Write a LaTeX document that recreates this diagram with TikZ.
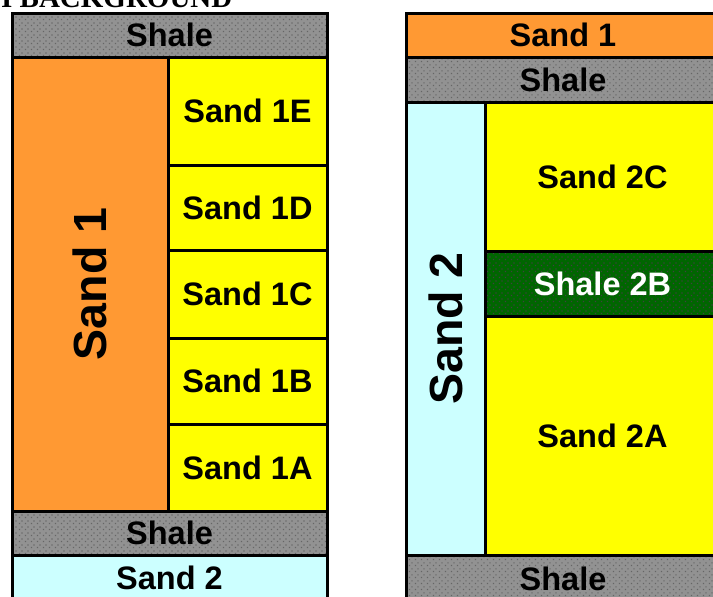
\documentclass[tikz,border=0pt]{standalone}
\usepackage{fontspec}
\setmainfont{Liberation Sans}
\newfontfamily\titlefont{Liberation Serif}
\usetikzlibrary{positioning, patterns.meta}

\definecolor{sandorange}{HTML}{FF9933}
\definecolor{sandyellow}{HTML}{FFFF00}
\definecolor{sandcyan}{HTML}{CCFFFF}
\definecolor{shalegray}{HTML}{929292}
\definecolor{shalegreen}{HTML}{006600}

\tikzdeclarepattern{name=shaledots, type=uncolored,
  bounding box={(0pt,0pt) and (6pt,6pt)}, tile size={(6pt,6pt)},
  code={\fill (1pt,1pt) rectangle (2.4pt,2.4pt);
        \fill (4pt,4pt) rectangle (5.4pt,5.4pt);}}

\begin{document}
\begin{tikzpicture}[x=1pt, y=-1pt, node distance=0pt]
\tikzstyle{layer} = [rectangle, draw=black, line width=3pt,
    inner sep=0pt, outer sep=0pt, text centered,
    font=\bfseries\fontsize{32.5}{36}\selectfont]
\tikzstyle{shale} = [layer, preaction={fill=shalegray},
    pattern=shaledots, pattern color=black!60]
\tikzstyle{shalegr} = [layer, preaction={fill=shalegreen},
    pattern=shaledots, pattern color=black!75, text=white]
\tikzstyle{sandor} = [layer, fill=sandorange]
\tikzstyle{sandye} = [layer, fill=sandyellow]
\tikzstyle{sandcy} = [layer, fill=sandcyan]
\tikzstyle{bigtext} = [rotate=90, font=\bfseries\fontsize{46.5}{50}\selectfont]

\path[use as bounding box, clip] (0,0) rectangle (713,597);

% cut-off heading
\node (heading) [anchor=base west, inner sep=0pt,
    font=\titlefont\bfseries\fontsize{29}{32}\selectfont] at (-20,7)
    {DI BACKGROUND};

% left column
\node (shaleTop) [shale, minimum width=315, minimum height=44] at (169.5,35) {Shale};
\node (sandOne) [sandor, bigtext, minimum width=454, minimum height=156] at (90,284) {Sand 1};
\node (sandOneE) [sandye, minimum width=159, minimum height=108] at (247.5,111) {Sand 1E};
\node (sandOneD) [sandye, minimum width=159, minimum height=85, below=of sandOneE] {Sand 1D};
\node (sandOneC) [sandye, minimum width=159, minimum height=88, below=of sandOneD] {Sand 1C};
\node (sandOneB) [sandye, minimum width=159, minimum height=86, below=of sandOneC] {Sand 1B};
\node (sandOneA) [sandye, minimum width=159, minimum height=87, below=of sandOneB] {Sand 1A};
\node (shaleLow) [shale, minimum width=315, minimum height=44] at (169.5,533) {Shale};
\node (sandTwoL) [sandcy, minimum width=315, minimum height=46, below=of shaleLow] {Sand 2};

% right column
\node (sandOneR) [sandor, minimum width=314, minimum height=44] at (563,35) {Sand 1};
\node (shaleR) [shale, minimum width=314, minimum height=45, below=of sandOneR] {Shale};
\node (sandTwo) [sandcy, bigtext, minimum width=453, minimum height=79] at (445.5,328.5) {Sand 2};
\node (sandTwoC) [sandye, minimum width=235, minimum height=149] at (602.5,176.5) {Sand 2C};
\node (shaleTwoB) [shalegr, minimum width=235, minimum height=65, below=of sandTwoC] {Shale 2B};
\node (sandTwoA) [sandye, minimum width=235, minimum height=239, below=of shaleTwoB] {Sand 2A};
\node (shaleBot) [shale, minimum width=314, minimum height=48] at (563,579) {Shale};
\end{tikzpicture}
\end{document}
